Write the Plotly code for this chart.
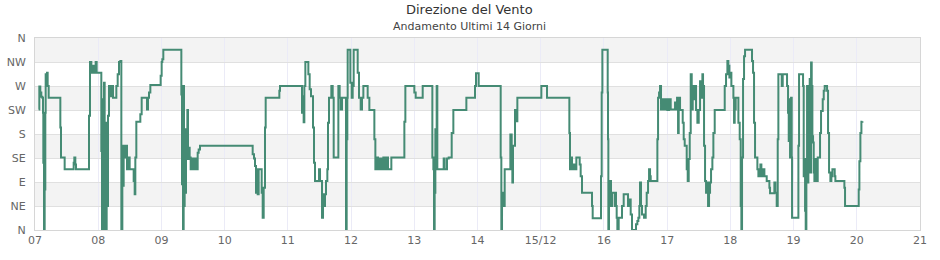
import datetime as dt
import plotly.graph_objects as go

# hours since 2024-12-07 00:00
hours = [
    1.39, 1.64, 2.02, 2.40, 2.78, 3.04, 3.16, 3.42, 3.67, 3.92, 4.05, 4.56, 4.81, 5.19, 9.62, 9.87,
    11.26, 14.68, 14.93, 15.31, 15.57, 20.50, 20.88, 21.39, 22.02, 22.65, 23.03, 23.41, 25.18, 25.44,
    25.69, 25.94, 26.20, 26.45, 26.70, 26.96, 27.21, 27.46, 27.72, 28.10, 28.73, 29.11, 29.61, 30.88,
    31.39, 31.89, 32.40, 32.78, 33.16, 33.41, 33.66, 34.04, 34.42, 34.93, 35.31, 35.94, 37.46, 37.84,
    38.09, 38.47, 39.99, 40.50, 42.52, 42.90, 43.28, 43.79,
    47.71, 48.09, 48.34, 48.72, 55.56, 55.81, 56.06, 56.19, 56.44, 56.57, 56.82, 57.08, 57.33, 57.58,
    57.84, 58.09, 58.34, 58.72, 59.10, 59.48, 59.86, 60.24, 60.62, 61.00, 61.38, 61.76, 62.14, 62.64,
    82.64, 83.15, 83.53, 83.91, 84.16, 84.54, 84.92, 86.06, 86.44, 86.82, 87.32, 87.58, 92.77, 93.02,
    101.37, 101.75, 102.00, 102.26, 102.64, 103.78, 104.28, 104.79, 105.55, 105.93, 106.31, 107.83,
    108.21, 108.97, 109.35, 109.72, 110.10, 110.48, 110.99, 111.24, 111.62, 112.51, 113.02, 113.40,
    115.17, 115.67, 116.05, 116.56, 118.08, 118.33, 118.58, 118.71, 119.72, 120.23, 120.61, 120.99,
    122.51, 123.01, 123.65, 124.15, 124.66, 126.30, 126.94, 128.84, 129.22, 129.72, 130.23, 130.86,
    131.49, 132.25, 132.76, 133.39, 134.02, 135.29,
    140.23, 140.61, 144.02, 144.53, 147.19, 150.86, 151.24, 151.49, 151.74, 152.00, 152.25, 152.50,
    152.75, 155.16, 155.54, 156.42, 157.06, 158.20, 158.83, 163.77, 167.06, 167.44, 168.45, 176.80,
    177.05, 177.31, 177.81, 178.32, 180.47, 180.98, 181.23, 181.48, 182.24, 182.75, 183.13,
    192.24, 194.39, 202.87, 203.12, 203.50, 203.88, 204.39, 204.77, 205.53, 206.79, 207.17, 207.68,
    211.48, 211.73, 214.89, 215.15, 215.40, 217.43, 217.55, 217.68, 217.93, 218.19, 218.44, 218.69,
    219.07, 220.08, 220.34, 220.59, 220.84, 221.10, 221.60, 222.87, 223.50, 225.15, 225.65, 226.16,
    226.66, 228.18, 228.69, 229.07, 229.45, 229.70, 230.08, 230.46,
    231.23, 231.86, 232.24, 232.75, 233.13, 233.51, 233.76, 236.29, 236.55, 236.93, 237.30, 237.68,
    238.19, 238.82, 239.46, 240.09, 240.72, 241.35, 243.00, 243.38, 243.76, 244.14, 244.39, 244.90,
    245.91, 246.29, 246.67, 247.43, 247.81, 248.19, 248.57, 248.95, 249.33, 249.71, 250.21, 250.59,
    250.97, 251.48, 251.99, 252.49, 253.00, 253.38, 253.63, 254.01, 254.39, 254.77, 255.15, 255.53,
    255.91, 256.29, 256.67, 257.17, 257.55, 258.06, 261.86, 262.36, 262.87, 263.25, 263.63, 264.01,
    264.39, 265.15, 265.40, 265.65, 266.03, 267.05, 267.55, 267.93, 268.18, 268.44, 268.82, 269.20,
    269.58, 272.23, 272.61, 272.99, 273.37, 274.26, 274.64, 275.02, 275.40, 275.78, 276.16, 276.92,
    277.80,
    278.82, 279.07, 280.71, 281.09, 281.60, 281.98, 282.23, 283.50, 283.88, 285.52, 285.90, 286.16,
    286.41, 286.66, 287.04, 287.30, 287.42, 289.83, 290.08, 291.60, 291.85, 292.11, 292.36, 292.61,
    292.86, 293.12, 293.37, 293.62, 293.88, 294.13, 294.38, 294.64, 294.89, 295.14, 295.40, 295.65,
    295.90, 296.15, 296.91, 297.17, 298.05, 298.43, 299.07, 299.45, 299.82, 300.71, 301.09, 301.47,
    301.98, 302.36, 302.74, 303.62, 303.87, 307.29, 307.54, 312.73, 312.99, 313.37, 313.75, 314.13,
]

direction_deg = [
    226, 269, 258, 250, 248, 220, 126, 0, 76, 220, 292, 295, 270, 248, 192, 136,
    114, 126, 136, 123, 114, 214, 315, 295, 308, 295, 315, 295, 148, 0,
    245, 76, 276, 0, 201, 0, 182, 45, 214, 270, 251, 270, 248, 270,
    292, 315, 317, 0, 158, 83, 158, 136, 158, 114, 136, 114, 92, 67,
    136, 203, 217, 248, 226, 248, 258, 272,
    289, 315, 320, 338, 254, 86, 270, 0, 270, 45, 158, 70, 189, 133,
    225, 133, 154, 136, 114, 134, 114, 134, 114, 134, 114, 145, 151, 158,
    142, 134, 120, 70, 114, 67, 114, 70, 23, 79, 192, 248, 261, 270,
    220, 251, 202, 270, 315, 292, 264, 251, 192, 126, 92, 114,
    92, 23, 67, 45, 67, 92, 114, 201, 248, 270, 248, 136,
    270, 248, 226, 248, 0, 170, 248, 338, 276, 248, 270, 338,
    295, 248, 226, 248, 270, 248, 225, 170, 114, 136, 114, 134,
    114, 136, 114, 136, 114, 136,
    203, 270, 258, 248, 270, 136, 114, 0, 70, 189, 133, 270,
    114, 134, 114, 134, 136, 182, 225, 248, 270, 294, 270, 136,
    0, 70, 45, 114, 179, 158, 89, 158, 225, 204, 248,
    270, 248, 182, 114, 136, 114, 123, 114, 136, 123, 101, 70,
    45, 22, 101, 258, 338, 258, 170, 0, 92, 45, 92, 45,
    70, 45, 70, 45, 23, 0, 23, 45, 67, 45, 57, 29,
    0, 11, 17, 23, 45, 89, 45, 29,
    23, 45, 70, 92, 114, 101, 92, 170, 248, 258, 270, 226,
    245, 226, 245, 225, 245, 226, 239, 226, 248, 182, 248, 225,
    201, 170, 158, 114, 92, 133, 182, 292, 226, 270, 245, 270,
    225, 201, 225, 279, 248, 292, 270, 158, 92, 70, 89, 45,
    70, 89, 114, 136, 182, 225, 270, 292, 317, 308, 286, 295,
    270, 248, 201, 226, 248, 201, 170, 45, 0, 136, 283, 326,
    338, 317, 295, 201, 136, 114, 101, 114, 123, 101, 114, 101,
    92,
    79, 69, 89, 70, 45, 170, 292, 270, 292, 270, 220, 167,
    245, 136, 248, 136, 23, 158, 292, 270, 101, 133, 36, 0,
    133, 270, 89, 133, 208, 283, 108, 314, 270, 176, 164, 108,
    92, 133, 92, 136, 182, 223, 245, 261, 270, 261, 182, 108,
    92, 101, 114, 101, 92, 79, 45, 76, 129, 182, 203, 204,
]

start = dt.datetime(2024, 12, 7)
times = [start + dt.timedelta(hours=h) for h in hours]

day_numbers = list(range(7, 22))
day_labels = ["07", "08", "09", "10", "11", "12", "13", "14", "15/12", "16", "17", "18", "19", "20", "21"]
compass_deg = [0, 45, 90, 135, 180, 225, 270, 315, 360]
compass_labels = ["N", "NE", "E", "SE", "S", "SW", "W", "NW", "N"]
band_ranges = [(45, 90), (135, 180), (225, 270), (315, 360)]

FONT = "DejaVu Sans"

fig = go.Figure()
fig.add_trace(go.Scatter(
    x=times, y=direction_deg, mode="lines",
    line=dict(color="#458B74", width=2, shape="hv"),
    hoverinfo="skip", showlegend=False,
))

for y0, y1 in band_ranges:
    fig.add_shape(type="rect", xref="paper", x0=0, x1=1, yref="y", y0=y0, y1=y1,
                  fillcolor="#f3f3f3", line=dict(width=0), layer="below")

fig.update_layout(
    width=940, height=260,
    margin=dict(l=35, r=20, t=38, b=30, autoexpand=False),
    paper_bgcolor="white", plot_bgcolor="white",
    font=dict(family=FONT, size=11, color="#666666"),
    showlegend=False,
    annotations=[
        dict(text="Direzione del Vento", xref="paper", yref="paper", x=0.4915, y=1.146,
             showarrow=False, xanchor="center", yanchor="middle",
             font=dict(family=FONT, size=13, color="#333333")),
        dict(text="Andamento Ultimi 14 Giorni", xref="paper", yref="paper", x=0.4915, y=1.0625,
             showarrow=False, xanchor="center", yanchor="middle",
             font=dict(family=FONT, size=11, color="#444444")),
    ],
)

fig.update_xaxes(
    range=[start, start + dt.timedelta(days=14)],
    tickvals=[dt.datetime(2024, 12, d) for d in day_numbers],
    ticktext=day_labels,
    showgrid=True, gridcolor="#ebebf7", gridwidth=1,
    showline=True, linecolor="#d6d6d6", linewidth=1, mirror=True,
    ticks="", zeroline=False, automargin=False,
    tickfont=dict(family=FONT, size=11, color="#666666"),
)
fig.update_yaxes(
    range=[0, 360],
    tickvals=compass_deg, ticktext=compass_labels,
    showgrid=True, gridcolor="#e0e0e0", gridwidth=1,
    showline=True, linecolor="#d6d6d6", linewidth=1, mirror=True,
    ticks="", zeroline=False, ticklabelstandoff=6, automargin=False,
    tickfont=dict(family=FONT, size=11, color="#666666"),
)

fig.write_html("out.html")
